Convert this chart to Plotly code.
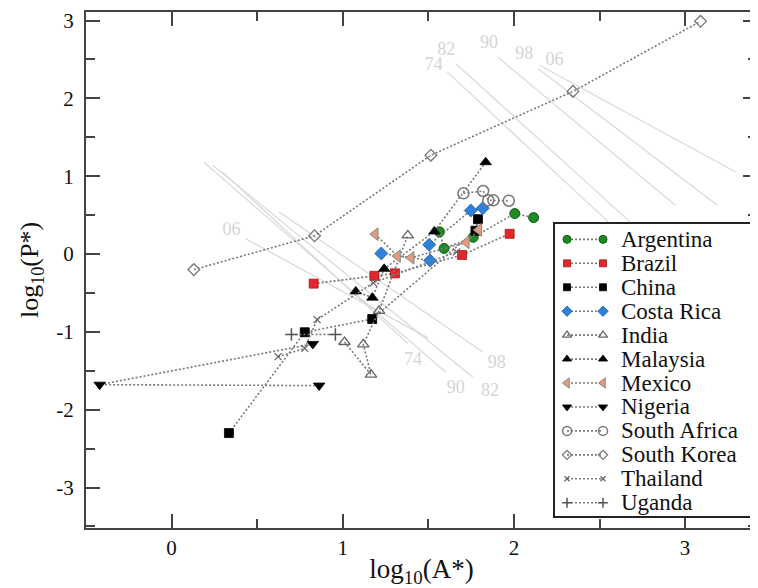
import plotly.graph_objects as go

# ---------------- data ----------------
countries = ["Argentina", "Brazil", "China", "Costa Rica", "India", "Malaysia",
             "Mexico", "Nigeria", "South Africa", "South Korea", "Thailand", "Uganda"]

argentina_x = [1.565, 1.592, 1.762, 2.005, 2.115]
argentina_y = [0.285, 0.072, 0.215, 0.520, 0.468]
brazil_x = [0.830, 1.185, 1.305, 1.697, 1.975]
brazil_y = [-0.380, -0.280, -0.248, -0.012, 0.260]
china_x = [0.335, 0.778, 1.172, 1.775, 1.790]
china_y = [-2.300, -1.005, -0.835, 0.300, 0.448]
costa_x = [1.225, 1.510, 1.505, 1.748, 1.818]
costa_y = [0.008, -0.083, 0.120, 0.560, 0.590]
india_x = [1.010, 1.165, 1.120, 1.212, 1.380]
india_y = [-1.130, -1.550, -1.160, -0.730, 0.240]
malaysia_x = [1.076, 1.173, 1.242, 1.535, 1.835]
malaysia_y = [-0.480, -0.560, -0.190, 0.290, 1.180]
mexico_x = [1.190, 1.320, 1.400, 1.722, 1.795]
mexico_y = [0.255, -0.027, -0.048, 0.150, 0.310]
nigeria_x = [0.862, -0.420, 0.825]
nigeria_y = [-1.690, -1.678, -1.155]
safrica_x = [1.705, 1.820, 1.850, 1.880, 1.970]
safrica_y = [0.780, 0.810, 0.690, 0.690, 0.685]
skorea_x = [0.130, 0.835, 1.515, 2.345, 3.090]
skorea_y = [-0.200, 0.235, 1.270, 2.090, 2.990]
thailand_x = [0.622, 0.778, 0.850, 1.178, 1.665]
thailand_y = [-1.318, -1.212, -0.843, -0.370, 0.028]
uganda_x = [0.700, 0.957]
uganda_y = [-1.033, -1.033]

series_x = [argentina_x, brazil_x, china_x, costa_x, india_x, malaysia_x,
            mexico_x, nigeria_x, safrica_x, skorea_x, thailand_x, uganda_x]
series_y = [argentina_y, brazil_y, china_y, costa_y, india_y, malaysia_y,
            mexico_y, nigeria_y, safrica_y, skorea_y, thailand_y, uganda_y]

# light grey iso-lines (years)
iso_labels = ["74", "82", "90", "98", "06"]
upper_x0 = [1.610, 1.659, 1.904, 2.139, 2.149]
upper_y0 = [2.340, 2.449, 2.533, 2.384, 2.427]
upper_x1 = [2.551, 2.678, 2.943, 3.188, 3.296]
upper_y1 = [0.413, 0.413, 0.627, 0.627, 1.055]
upper_lab_x = [1.531, 1.604, 1.855, 2.060, 2.237]
upper_lab_y = [2.427, 2.620, 2.706, 2.568, 2.482]

lower_x0 = [0.300, 0.240, 0.188, 0.629, 0.430]
lower_y0 = [1.050, 1.140, 1.180, 0.540, 0.200]
lower_x1 = [1.380, 1.759, 1.600, 1.818, 1.500]
lower_y1 = [-1.150, -1.580, -1.515, -1.258, -1.080]
lower_lab_x = [1.410, 1.860, 1.660, 1.900, 0.350]
lower_lab_y = [-1.365, -1.770, -1.730, -1.405, 0.306]

x_ticks = [0, 1, 2, 3]
x_ticktext = ["0", "1", "2", "3"]
y_ticks = [-3, -2, -1, 0, 1, 2, 3]
y_ticktext = ["-3", "-2", "-1", "0", "1", "2", "3"]

# ---------------- styles ----------------
FONT = "Liberation Serif"
styles = [
    dict(symbol="circle", size=10, color="#1e8a22", line=dict(color="#145a16", width=1)),
    dict(symbol="square", size=9, color="#e3262b", line=dict(color="#a81818", width=0.8)),
    dict(symbol="square", size=9, color="#000000", line=dict(color="#000000", width=0.8)),
    dict(symbol="diamond", size=10, color="#2f80d8", line=dict(color="#1f5ea8", width=0.8)),
    dict(symbol="triangle-up-open", size=10, color="#666666", line=dict(color="#666666", width=1.3)),
    dict(symbol="triangle-up", size=10, color="#000000", line=dict(color="#000000", width=0.8)),
    dict(symbol="triangle-left", size=11, color="#e39a7d", line=dict(color="#8a8a8a", width=1)),
    dict(symbol="triangle-down", size=10, color="#000000", line=dict(color="#000000", width=0.8)),
    dict(symbol="circle-open", size=11, color="#777777", line=dict(color="#777777", width=1.5)),
    dict(symbol="diamond-open", size=9, color="#777777", line=dict(color="#777777", width=1.3)),
    dict(symbol="x-thin", size=7, color="#666666", line=dict(color="#666666", width=1.3)),
    dict(symbol="cross-thin", size=9, color="#555555", line=dict(color="#555555", width=1.5)),
]
DOT = dict(color="#7a7a7a", width=1.6, dash="2px,2px")
ISO = dict(color="#d9d9d9", width=1.2)

fig = go.Figure()

# iso-lines
for x0s, y0s, x1s, y1s in [(upper_x0, upper_y0, upper_x1, upper_y1),
                           (lower_x0, lower_y0, lower_x1, lower_y1)]:
    for a, b, c, d in zip(x0s, y0s, x1s, y1s):
        fig.add_trace(go.Scatter(x=[a, c], y=[b, d], mode="lines", line=ISO,
                                 hoverinfo="skip", showlegend=False))
fig.add_trace(go.Scatter(x=upper_lab_x + lower_lab_x, y=upper_lab_y + lower_lab_y,
                         mode="text", text=iso_labels + iso_labels,
                         textfont=dict(family=FONT, size=18, color="#d4d4d4"),
                         hoverinfo="skip", showlegend=False))

# country series
for name, xs, ys, st in zip(countries, series_x, series_y, styles):
    fig.add_trace(go.Scatter(x=xs, y=ys, mode="lines+markers", name=name,
                             line=DOT, marker=st, showlegend=False))

# manual legend (in its own small axes placed over the plot)
row0, row_step = 15.3, 23.95
for i, (name, st) in enumerate(zip(countries, styles)):
    ry = row0 + i * row_step
    fig.add_trace(go.Scatter(x=[12, 48], y=[ry, ry], mode="lines+markers",
                             line=DOT, marker=dict(st, size=st["size"] - 2),
                             xaxis="x2", yaxis="y2", showlegend=False, hoverinfo="skip"))
    fig.add_annotation(x=64, y=ry, xref="x2", yref="y2", text=name, showarrow=False,
                       xanchor="left", yanchor="middle",
                       font=dict(family=FONT, size=23, color="#111111"))

axis_common = dict(showgrid=False, zeroline=False, showline=True, linecolor="#444444",
                   linewidth=2, mirror="ticks", ticks="inside", ticklen=14, tickwidth=1.5,
                   tickcolor="#444444", automargin=False,
                   tickfont=dict(family=FONT, size=21, color="#111111"))

# the page adds an 8px body margin, so the figure is 8px smaller and offset accordingly
fig.update_layout(
    width=750, height=580,
    margin=dict(l=78, r=1, t=4, b=60),
    paper_bgcolor="white", plot_bgcolor="white",
    xaxis=dict(axis_common, range=[-0.5, 3.42], tickvals=x_ticks, ticktext=x_ticktext,
               minor=dict(dtick=0.5, tick0=0, ticks="inside", ticklen=9, tickcolor="#444444", tickwidth=1.5),
               title=dict(text="log<sub>10</sub>(A*)", font=dict(family=FONT, size=27, color="#111111"),
                          standoff=2)),
    yaxis=dict(axis_common, range=[-3.52, 3.11], tickvals=y_ticks, ticktext=y_ticktext,
               minor=dict(dtick=0.5, tick0=0, ticks="inside", ticklen=9, tickcolor="#444444", tickwidth=1.5),
               ticklabelstandoff=6,
               title=dict(text="log<sub>10</sub>(P*)", font=dict(family=FONT, size=26, color="#111111"),
                          standoff=10)),
    xaxis2=dict(domain=[0.699, 0.9955], range=[0, 199], anchor="y2", showgrid=False,
                zeroline=False, showticklabels=False, ticks="", showline=True, mirror=True,
                linecolor="#222222", linewidth=1.5, fixedrange=True, automargin=False),
    yaxis2=dict(domain=[0.0233, 0.589], range=[292, 0], anchor="x2", showgrid=False,
                zeroline=False, showticklabels=False, ticks="", showline=True, mirror=True,
                linecolor="#222222", linewidth=1.5, fixedrange=True, automargin=False),
    showlegend=False,
)

fig.write_html("out.html")
